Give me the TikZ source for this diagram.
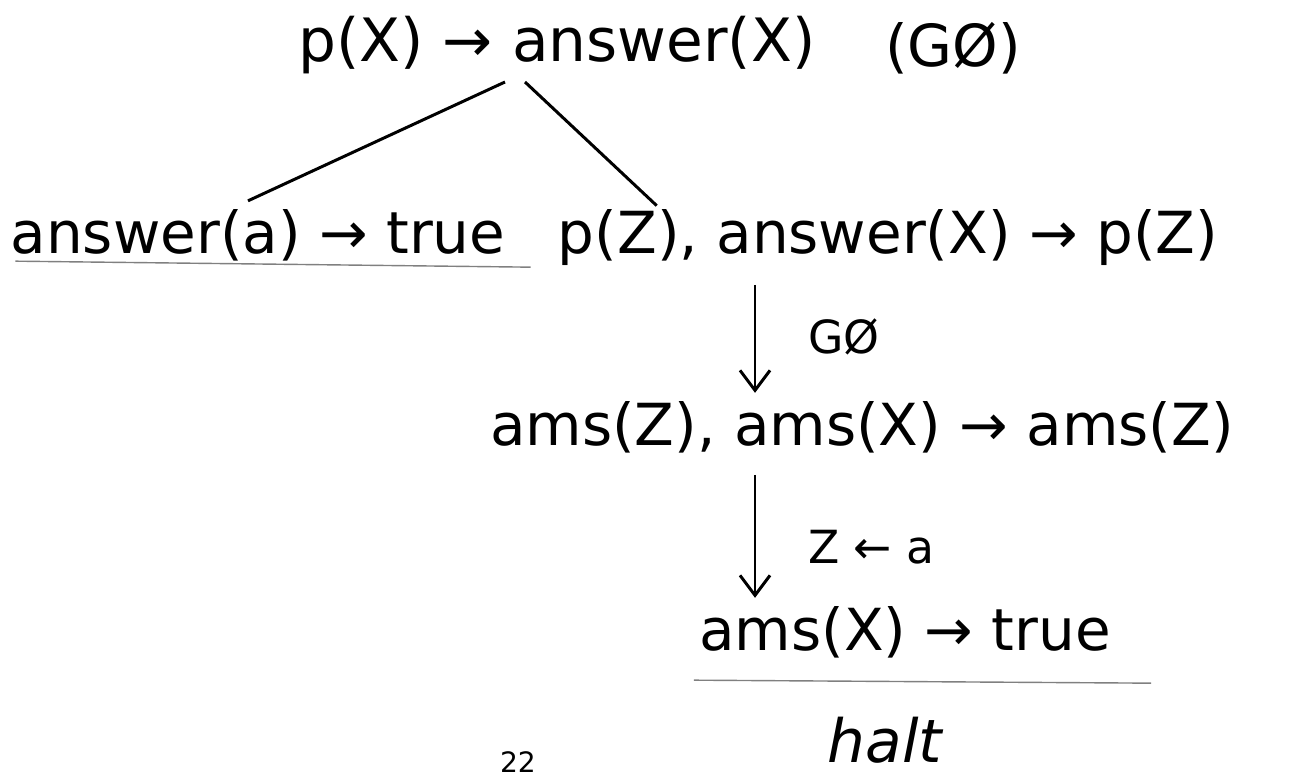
\documentclass[tikz,border=0pt]{standalone}
\usepackage{fontspec}
\setmainfont{DejaVu Sans}
\usepackage{tikz}
\usetikzlibrary{arrows.meta,positioning,calc}

\begin{document}
\begin{tikzpicture}[x=0.02cm,y=-0.02cm,
  term/.style={inner sep=0pt,font=\fontsize{33}{38}\selectfont},
  note/.style={inner sep=0pt,font=\fontsize{26}{30}\selectfont},
  edge/.style={line width=1.7pt},
  step arrow/.style={line width=1.7pt,-{Straight Barb[length=4mm,width=6mm]}},
  underln/.style={gray,line width=0.8pt}]
\useasboundingbox (0,0) rectangle (1313,780);
% goal and first resolution step
\node[term,font=\fontsize{34}{38}\selectfont] (goal) at (557,45) {p(X) → answer(X)};
\node[term,anchor=west] (gz) at (885,48) {(GØ)};
\node[term] (ansa) at (258,235) {answer(a) → true};
\node[term] (pz) at (888,238) {p(Z), answer(X) → p(Z)};
\coordinate (forkL) at (505,82);
\coordinate (forkR) at (525,82);
\draw[edge] (forkL) -- ($(ansa.north)+(-10,-8)$);
\draw[edge] (forkR) -- ($(pz.north west)!0.15!(pz.north east)+(0,-4)$);
\draw[underln] ($(ansa.south west)+(5,0)$) -- ($(ansa.south east)+(25,6)$);
% second and third step
\node[term] (ams) at (862,427) {ams(Z), ams(X) → ams(Z)};
\node[term] (amx) at (905,632) {ams(X) → true};
\coordinate (d1) at (755,285);
\coordinate (d2) at (755,475);
\draw[step arrow] (d1) -- ($(ams.north -| d1)+(0,-8)$);
\node[note,right=30pt of $(d1)!0.45!(ams.north -| d1)$] (lgz) {GØ};
\draw[step arrow] (d2) -- ($(amx.north -| d2)+(0,-8)$);
\node[note,right=30pt of $(d2)!0.55!(amx.north -| d2)$] (lza) {Z ← a};
\draw[underln] ($(amx.south west)+(-5,22)$) -- ($(amx.south east)+(40,25)$);
\node[term,font=\fontsize{34}{38}\itshape] (halt) at (885,740) {halt};
\node[inner sep=0pt,font=\fontsize{16}{18}\rmfamily] (page) at (518,762) {22};
\end{tikzpicture}
\end{document}
